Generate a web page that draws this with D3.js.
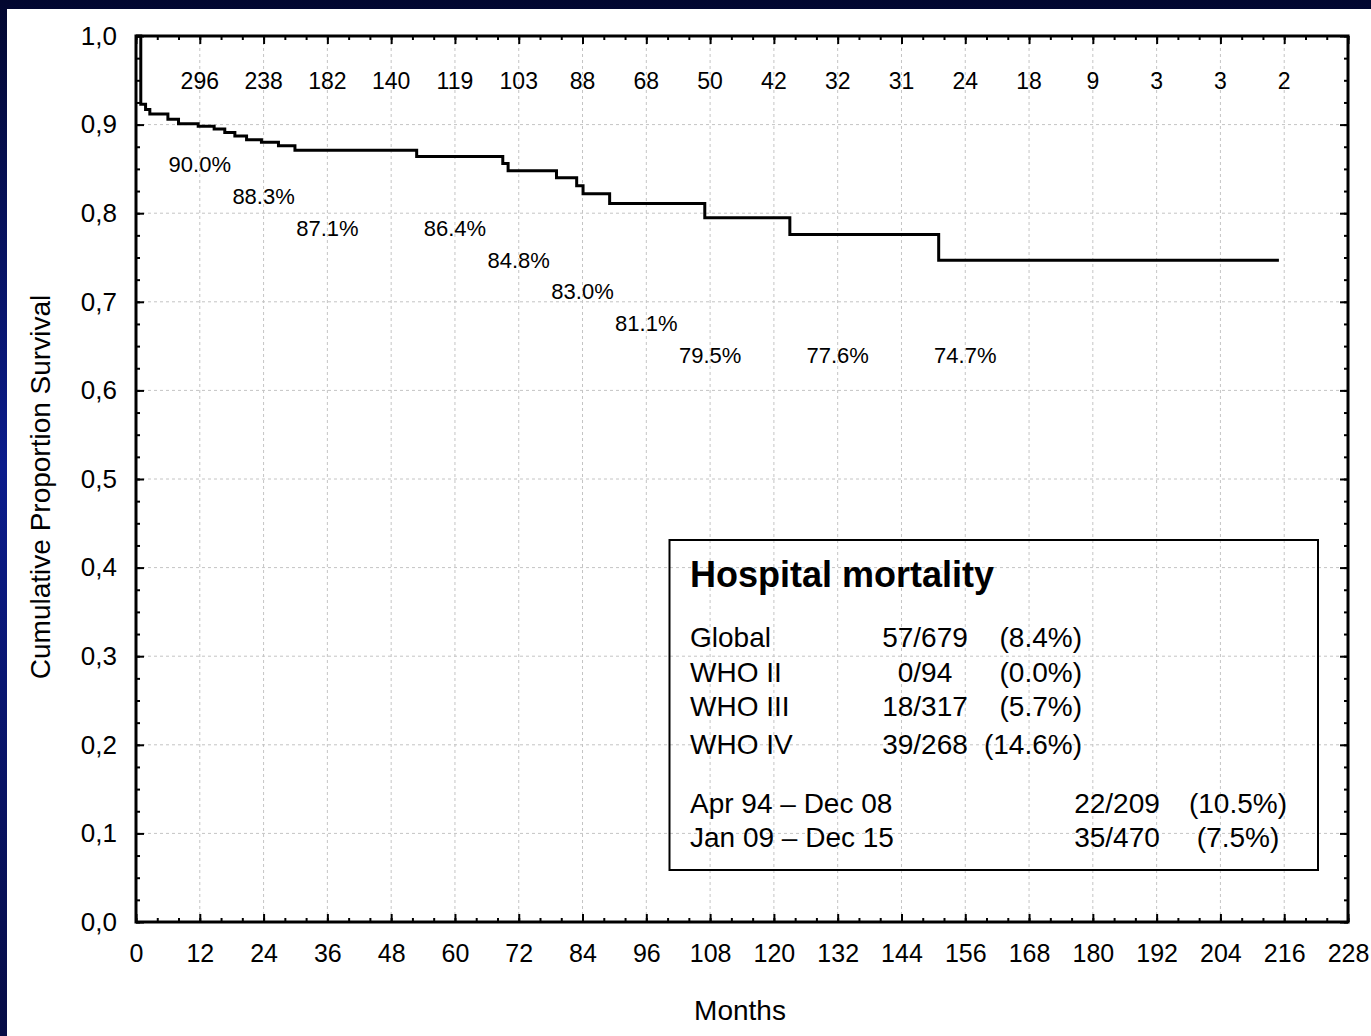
<!DOCTYPE html>
<html><head><meta charset="utf-8">
<script src="https://cdn.jsdelivr.net/npm/d3@7"></script>
<style>
body{margin:0;background:#fff}
svg{display:block}
text{font-family:Arial,"Liberation Sans",sans-serif;fill:#000}
</style>
</head><body>
<svg id="c" width="1371" height="1036"></svg>
<script>
// ---- data ----
const kmMonths   = [0, 0.9, 1.8, 2.6, 6.0, 8.0, 11.7, 14.7, 16.7, 18.6, 20.8, 23.6, 26.8, 29.9, 52.8, 69.0, 70.0, 79.1, 82.9, 84.1, 89.1, 107.0, 123.0, 151.0, 215.0];
const kmSurvival = [1.0, 0.923, 0.917, 0.912, 0.906, 0.901, 0.898, 0.895, 0.891, 0.887, 0.883, 0.880, 0.876, 0.871, 0.864, 0.856, 0.848, 0.840, 0.831, 0.822, 0.811, 0.795, 0.776, 0.747, 0.747];

const atRiskMonths = [12, 24, 36, 48, 60, 72, 84, 96, 108, 120, 132, 144, 156, 168, 180, 192, 204, 216];
const atRiskCounts = [296, 238, 182, 140, 119, 103, 88, 68, 50, 42, 32, 31, 24, 18, 9, 3, 3, 2];

const pctMonths = [12, 24, 36, 60, 72, 84, 96, 108, 132, 156];
const pctLabels = ["90.0%", "88.3%", "87.1%", "86.4%", "84.8%", "83.0%", "81.1%", "79.5%", "77.6%", "74.7%"];
const pctRow    = [0, 1, 2, 2, 3, 4, 5, 6, 6, 6];

const xTickValues = d3.range(0, 229, 12);
const yTickValues = [0, 0.1, 0.2, 0.3, 0.4, 0.5, 0.6, 0.7, 0.8, 0.9, 1.0];

const legendTitle = "Hospital mortality";
const whoGroups = ["Global", "WHO II", "WHO III", "WHO IV"];
const whoRatio  = ["57/679", "0/94", "18/317", "39/268"];
const whoPct    = ["(8.4%)", "(0.0%)", "(5.7%)", "(14.6%)"];
const periods     = ["Apr 94 \u2013 Dec 08", "Jan 09 \u2013 Dec 15"];
const periodRatio = ["22/209", "35/470"];
const periodPct   = ["(10.5%)", "(7.5%)"];

const xTitle = "Months";
const yTitle = "Cumulative Proportion Survival";

// ---- layout ----
const W = 1371, H = 1036;
const L = 136, R = 1348, T = 36, B = 922;
const x = d3.scaleLinear().domain([0, 228]).range([L, R]);
const y = d3.scaleLinear().domain([0, 1]).range([B, T]);

const svg = d3.select("#c");
const defs = svg.append("defs");
const g = defs.append("linearGradient").attr("id", "bg").attr("x1", 0).attr("y1", 0).attr("x2", 0).attr("y2", 1);
g.append("stop").attr("offset", "0").attr("stop-color", "#02072f");
g.append("stop").attr("offset", "0.45").attr("stop-color", "#0b1c8c");
g.append("stop").attr("offset", "1").attr("stop-color", "#060c45");
svg.append("rect").attr("width", W).attr("height", H).attr("fill", "url(#bg)");
svg.append("rect").attr("x", 7).attr("y", 9).attr("width", W - 7).attr("height", H - 9).attr("fill", "#fff");

// gridlines
const grid = svg.append("g").attr("stroke", "#c4c4c4").attr("stroke-width", 1).attr("stroke-dasharray", "3,3");
grid.selectAll("line.v").data(xTickValues.filter(d => d > 0 && d < 228)).join("line")
  .attr("x1", d => x(d)).attr("x2", d => x(d)).attr("y1", T).attr("y2", B);
grid.selectAll("line.h").data(yTickValues.filter(d => d > 0 && d < 1)).join("line")
  .attr("y1", d => y(d)).attr("y2", d => y(d)).attr("x1", L).attr("x2", R);

// ticks (inward) on all four sides
function ticks(axis, tr) {
  const a = svg.append("g").attr("transform", tr).call(axis);
  a.select(".domain").remove();
  a.selectAll("text").remove();
  a.selectAll("line").attr("stroke", "#000").attr("stroke-width", 2);
}
const xMinor = d3.range(0, 229, 4), yMinor = d3.range(0, 41).map(i => i * 0.025);
ticks(d3.axisBottom(x).tickValues(xMinor).tickSize(-4), `translate(0,${B})`);
ticks(d3.axisBottom(x).tickValues(xTickValues).tickSize(-8), `translate(0,${B})`);
ticks(d3.axisTop(x).tickValues(xMinor).tickSize(-4), `translate(0,${T})`);
ticks(d3.axisTop(x).tickValues(xTickValues).tickSize(-8), `translate(0,${T})`);
ticks(d3.axisLeft(y).tickValues(yMinor).tickSize(-4), `translate(${L},0)`);
ticks(d3.axisLeft(y).tickValues(yTickValues).tickSize(-8), `translate(${L},0)`);
ticks(d3.axisRight(y).tickValues(yMinor).tickSize(-4), `translate(${R},0)`);
ticks(d3.axisRight(y).tickValues(yTickValues).tickSize(-8), `translate(${R},0)`);

// tick labels
const xl = svg.append("g").attr("transform", `translate(0,${B})`)
  .call(d3.axisBottom(x).tickValues(xTickValues).tickSize(0).tickPadding(22).tickFormat(d3.format("d")));
xl.select(".domain").remove();
xl.selectAll("text").attr("font-size", 25).attr("font-family", "Arial, 'Liberation Sans', sans-serif").attr("fill", "#000");

const yl = svg.append("g").attr("transform", `translate(${L},0)`)
  .call(d3.axisLeft(y).tickValues(yTickValues).tickSize(0).tickPadding(19).tickFormat(d => d3.format(".1f")(d).replace(".", ",")));
yl.select(".domain").remove();
yl.selectAll("text").attr("font-size", 26).attr("font-family", "Arial, 'Liberation Sans', sans-serif").attr("fill", "#000");

// frame
svg.append("rect").attr("x", L).attr("y", T).attr("width", R - L).attr("height", B - T)
  .attr("fill", "none").attr("stroke", "#000").attr("stroke-width", 3);

// survival curve
const pts = kmMonths.map((m, i) => [m, kmSurvival[i]]);
svg.append("path").datum(pts)
  .attr("d", d3.line().x(d => x(d[0])).y(d => y(d[1])).curve(d3.curveStepAfter))
  .attr("fill", "none").attr("stroke", "#000").attr("stroke-width", 3);

// numbers at risk
svg.append("g").selectAll("text").data(atRiskMonths).join("text")
  .attr("x", d => x(d)).attr("y", 89).attr("text-anchor", "middle").attr("font-size", 23)
  .text((d, i) => atRiskCounts[i]);

// survival % labels
svg.append("g").selectAll("text").data(pctMonths).join("text")
  .attr("x", d => x(d)).attr("y", (d, i) => y(0.846) + pctRow[i] * 31.7)
  .attr("text-anchor", "middle").attr("font-size", 22)
  .text((d, i) => pctLabels[i]);

// axis titles
svg.append("text").attr("x", 740).attr("y", 1020).attr("text-anchor", "middle").attr("font-size", 28).text(xTitle);
svg.append("text").attr("transform", "translate(50,487) rotate(-90)").attr("text-anchor", "middle").attr("font-size", 28).text(yTitle);

// legend box
const lg = svg.append("g");
lg.append("rect").attr("x", 669.5).attr("y", 540).attr("width", 648.5).attr("height", 330)
  .attr("fill", "none").attr("stroke", "#000").attr("stroke-width", 2);
lg.append("text").attr("x", 690).attr("y", 587).attr("font-size", 36).attr("font-weight", "bold").text(legendTitle);
const rowY = [647, 682, 716, 754];
whoGroups.forEach((s, i) => {
  lg.append("text").attr("x", 690).attr("y", rowY[i]).attr("font-size", 28).text(s);
  lg.append("text").attr("x", 925).attr("y", rowY[i]).attr("text-anchor", "middle").attr("font-size", 28).text(whoRatio[i]);
  lg.append("text").attr("x", 1082).attr("y", rowY[i]).attr("text-anchor", "end").attr("font-size", 28).text(whoPct[i]);
});
const pY = [813, 847];
periods.forEach((s, i) => {
  lg.append("text").attr("x", 690).attr("y", pY[i]).attr("font-size", 28).text(s);
  lg.append("text").attr("x", 1117).attr("y", pY[i]).attr("text-anchor", "middle").attr("font-size", 28).text(periodRatio[i]);
  lg.append("text").attr("x", 1238).attr("y", pY[i]).attr("text-anchor", "middle").attr("font-size", 28).text(periodPct[i]);
});
</script>
</body></html>
